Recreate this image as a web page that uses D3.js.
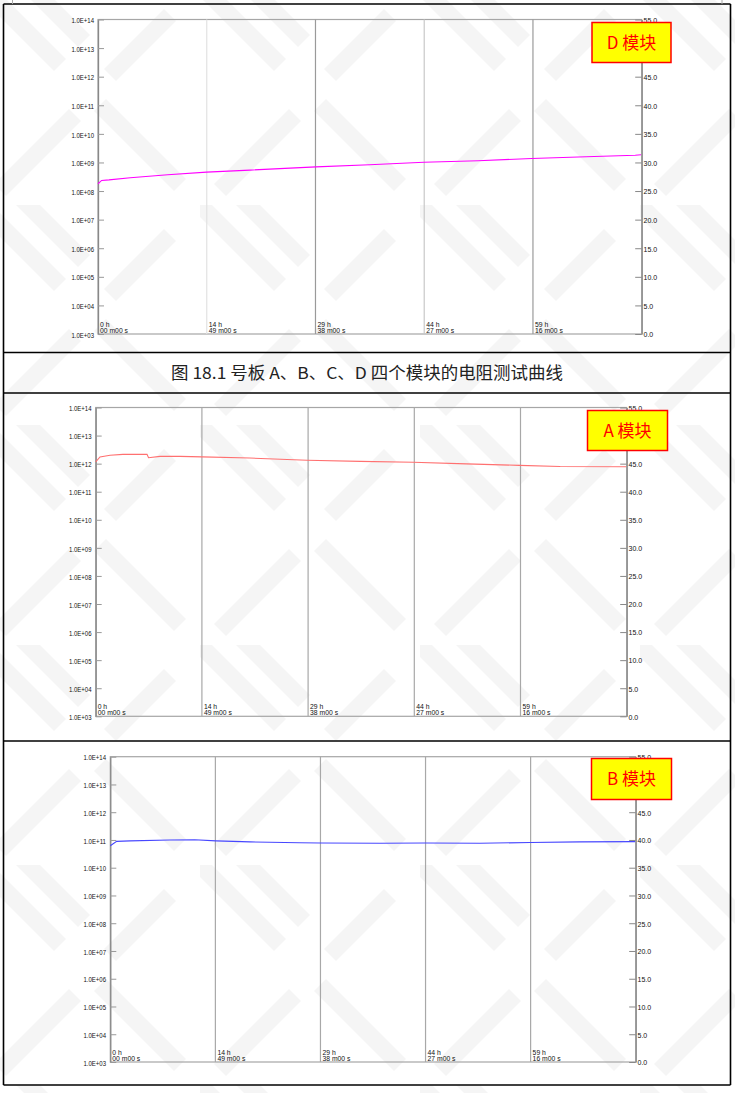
<!DOCTYPE html>
<html><head><meta charset="utf-8">
<script src="https://cdn.jsdelivr.net/npm/d3@7"></script>
<style>body{margin:0;background:#fff}svg{display:block}</style>
</head><body>
<svg id="c" width="735" height="1093"></svg>
<script>
// ---------- data ----------
const leftTickValues = [1e3,1e4,1e5,1e6,1e7,1e8,1e9,1e10,1e11,1e12,1e13,1e14];
const leftTickLabels = ["1.0E+03","1.0E+04","1.0E+05","1.0E+06","1.0E+07","1.0E+08","1.0E+09","1.0E+10","1.0E+11","1.0E+12","1.0E+13","1.0E+14"];
const rightTickValues = [0,5,10,15,20,25,30,35,40,45,50,55];
const rightTickLabels = ["0.0","5.0","10.0","15.0","20.0","25.0","30.0","35.0","40.0","45.0","","55.0"];
const timeTickHours = [0, 14+49/60, 29+38/60, 44+27/60, 59+16/60];
const timeTickHourLabels = ["0 h","14 h","29 h","44 h","59 h"];
const timeTickMinLabels = ["00 m00 s","49 m00 s","38 m00 s","27 m00 s","16 m00 s"];
const xMaxHours = 74 + 5/60;

const moduleDHours  = [0, 0.5, 1.5, 4.4, 9.5, 14.8, 20.7, 29.7, 37, 44.4, 51.8, 59.1, 66.5, 73.2, 74];
const moduleDValues = [1.8e8, 2.35e8, 2.45e8, 2.9e8, 3.7e8, 4.6e8, 5.4e8, 7.0e8, 8.3e8, 1.02e9, 1.15e9, 1.38e9, 1.58e9, 1.78e9, 1.86e9];

const moduleAHours  = [0, 0.6, 2.0, 3.8, 7.16, 7.37, 8.97, 11.76, 14.83, 21.5, 29.5, 36.9, 44.3, 51.7, 59.1, 64.8, 74];
const moduleAValues = [1.15e12, 1.74e12, 2.0e12, 2.14e12, 2.14e12, 1.62e12, 1.82e12, 1.82e12, 1.74e12, 1.58e12, 1.32e12, 1.2e12, 1.12e12, 9.8e11, 8.7e11, 7.9e11, 7.8e11];

const moduleBHours  = [0, 0.9, 2.78, 8.4, 11.9, 14.9, 19.7, 26.7, 29.6, 38, 44.4, 52.1, 59.2, 66.2, 74];
const moduleBValues = [6.2e10, 8.9e10, 9.3e10, 1.0e11, 1.02e11, 9.3e10, 8.5e10, 7.9e10, 7.8e10, 7.6e10, 7.8e10, 7.6e10, 8.1e10, 8.5e10, 8.7e10];

const captionText = "图 18.1 号板 A、B、C、D 四个模块的电阻测试曲线";

// ---------- layout ----------
const panels = [
  {name:"D 模块", hours:moduleDHours, values:moduleDValues, color:"#ff00ff",
   left:98, right:641.7, top:19.5, bottom:334, box:{x:592,y:22.5,w:79,h:40},
   grid:["#e2e2e2","#9a9a9a","#c8c8c8","#9a9a9a"], labRight:94},
  {name:"A 模块", hours:moduleAHours, values:moduleAValues, color:"#ff7070",
   left:95.7, right:626.7, top:407.5, bottom:716.3, box:{x:587.5,y:410.5,w:80,h:40},
   grid:["#a8a8a8","#a8a8a8","#a8a8a8","#a8a8a8"], labRight:91.5},
  {name:"B 模块", hours:moduleBHours, values:moduleBValues, color:"#4747ff",
   left:110.3, right:635.7, top:756.7, bottom:1062, box:{x:591.5,y:758.5,w:80,h:41},
   grid:["#a8a8a8","#a8a8a8","#a8a8a8","#a8a8a8"], labRight:106}
];

const svg = d3.select("#c");
svg.append("rect").attr("width",735).attr("height",1093).attr("fill","#fff");

// watermark pattern
const defs = svg.append("defs");
const pat = defs.append("pattern").attr("id","wm").attr("patternUnits","userSpaceOnUse")
  .attr("width",220).attr("height",220).attr("x",-20).attr("y",-15);
const bars = [[0,0,80,80],[24,-24,104,56],[130,90,190,30],[120,120,200,200],[20,205,95,130]];
pat.selectAll("line").data(bars).join("line")
  .attr("x1",d=>d[0]).attr("y1",d=>d[1]).attr("x2",d=>d[2]).attr("y2",d=>d[3])
  .attr("stroke","#f5f5f5").attr("stroke-width",17);
svg.append("rect").attr("width",735).attr("height",1093).attr("fill","url(#wm)");

// document frame lines
const frame = svg.append("g").attr("stroke","#000").attr("stroke-width",1.6);
[4,352.5,393,741,1085].forEach(yv=>frame.append("line").attr("x1",3.5).attr("x2",730.5).attr("y1",yv).attr("y2",yv));
[3.5,730.5].forEach(xv=>frame.append("line").attr("x1",xv).attr("x2",xv).attr("y1",4).attr("y2",1085));
svg.append("line").attr("x1",12.5).attr("x2",12.5).attr("y1",0).attr("y2",4).attr("stroke","#aaa");
svg.append("line").attr("x1",722).attr("x2",722).attr("y1",0).attr("y2",4).attr("stroke","#aaa");

// caption
svg.append("text").attr("x",367).attr("y",379).attr("text-anchor","middle")
  .attr("font-family","'Noto Sans CJK SC','Noto Sans',sans-serif").attr("font-size",16.5)
  .attr("fill","#222").attr("textLength",392).attr("lengthAdjust","spacingAndGlyphs")
  .text(captionText);

panels.forEach(p=>{
  const g = svg.append("g");
  const x = d3.scaleLinear().domain([0,xMaxHours]).range([p.left,p.right]);
  const y = d3.scaleLog().domain([1e3,1e14]).range([p.bottom,p.top]);
  const yr = d3.scaleLinear().domain([0,55]).range([p.bottom,p.top]);

  // plot frame
  g.append("rect").attr("x",p.left).attr("y",p.top).attr("width",p.right-p.left).attr("height",p.bottom-p.top)
    .attr("fill","none").attr("stroke","#a6a6a6").attr("stroke-width",1.2);

  // vertical grid
  g.selectAll("line.grid").data(timeTickHours.slice(1)).join("line").attr("class","grid")
    .attr("x1",d=>x(d)).attr("x2",d=>x(d)).attr("y1",p.top).attr("y2",p.bottom)
    .attr("stroke",(d,i)=>p.grid[i]).attr("stroke-width",1.2);

  // left axis
  const la = g.append("g").attr("transform",`translate(${p.left},0)`)
    .call(d3.axisLeft(y).tickValues(leftTickValues).tickSizeInner(-6).tickSizeOuter(0).tickPadding(0)
      .tickFormat((d,i)=>leftTickLabels[i]));
  la.select(".domain").attr("stroke","#888").attr("stroke-width",1.3);
  la.selectAll(".tick line").attr("stroke","#999");
  la.selectAll(".tick text").attr("x",p.labRight-p.left).attr("dy","0.45em")
    .attr("font-family","'Liberation Sans',Arial,sans-serif").attr("font-size",7).attr("fill","#111")
    .attr("textLength",22.5).attr("lengthAdjust","spacingAndGlyphs");

  // right axis
  const ra = g.append("g").attr("transform",`translate(${p.right},0)`)
    .call(d3.axisRight(yr).tickValues(rightTickValues).tickSizeInner(-6.5).tickSizeOuter(0).tickPadding(1.8)
      .tickFormat((d,i)=>rightTickLabels[i]));
  ra.select(".domain").attr("stroke","#888").attr("stroke-width",1.3);
  ra.selectAll(".tick line").attr("stroke","#888");
  ra.selectAll(".tick text").attr("dy","0.4em")
    .attr("font-family","'Liberation Sans',Arial,sans-serif").attr("font-size",7).attr("fill","#111");

  // time labels
  const tl = g.append("g").attr("font-family","'Liberation Sans',Arial,sans-serif").attr("font-size",6.8).attr("fill","#111");
  tl.selectAll("text.h").data(timeTickHours).join("text").attr("class","h")
    .attr("x",d=>x(d)+2).attr("y",p.bottom-7).text((d,i)=>timeTickHourLabels[i]);
  tl.selectAll("text.m").data(timeTickHours).join("text").attr("class","m")
    .attr("x",d=>x(d)+2).attr("y",p.bottom-1.5).text((d,i)=>timeTickMinLabels[i]);

  // series line
  const pts = p.hours.map((h,i)=>({h, v:p.values[i]}));
  g.append("path").datum(pts)
    .attr("d", d3.line().x(d=>x(d.h)).y(d=>y(d.v)))
    .attr("fill","none").attr("stroke",p.color).attr("stroke-width",1.1);

  // label box
  g.append("rect").attr("x",p.box.x).attr("y",p.box.y).attr("width",p.box.w).attr("height",p.box.h)
    .attr("fill","#ffff00").attr("stroke","#ff0000").attr("stroke-width",1.5);
  g.append("text").attr("x",p.box.x+p.box.w/2).attr("y",p.box.y+p.box.h/2+6)
    .attr("text-anchor","middle").attr("font-family","'Noto Sans CJK SC',sans-serif")
    .attr("font-size",17).attr("fill","#ff0000").text(p.name);
});
</script>
</body></html>
